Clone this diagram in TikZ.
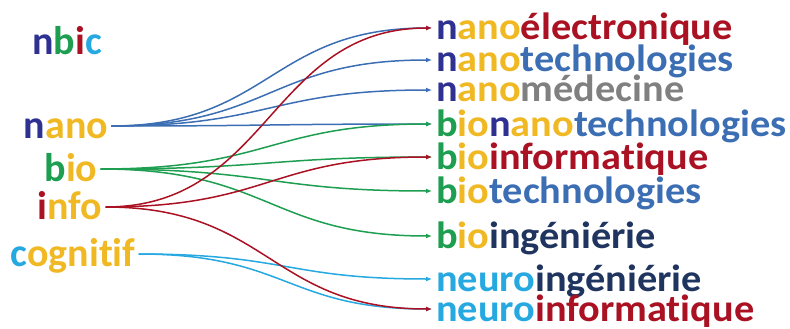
\documentclass[tikz,border=0pt]{standalone}
\usepackage{fontspec}
\setmainfont{Carlito}[Ligatures=NoCommon]
\usepackage{xcolor}
\usepackage{tikz}
\usetikzlibrary{arrows.meta,positioning,calc}
\definecolor{cnavy}{RGB}{46,49,146}
\definecolor{cgold}{RGB}{240,185,35}
\definecolor{cgreen}{RGB}{30,158,80}
\definecolor{cred}{RGB}{170,18,35}
\definecolor{ccyan}{RGB}{38,168,224}
\definecolor{csteel}{RGB}{60,110,180}
\definecolor{cgray}{RGB}{128,128,128}
\definecolor{cdeep}{RGB}{31,52,95}
\newcommand{\pnano}{\textcolor{cnavy}{n}\textcolor{cgold}{ano}}
\newcommand{\pbio}{\textcolor{cgreen}{b}\textcolor{cgold}{io}}
\newcommand{\pneuro}{\textcolor{ccyan}{neuro}}
\newcommand{\wide}[1]{\scalebox{1.06}[1]{#1}}
\tikzset{
  Lword/.style={inner xsep=3pt, inner ysep=0pt, text height=32pt, text depth=8pt,
                font=\fontsize{40}{40}\selectfont\bfseries},
  Rword/.style={anchor=west, inner xsep=4pt, inner ysep=0pt, text height=28pt,
                text depth=4pt, font=\fontsize{38}{38}\selectfont\bfseries},
  Larr/.style={-{Latex[length=6pt,width=5pt]}, line width=1.5pt},
  Bline/.style={Larr, draw=csteel},
  Gline/.style={Larr, draw=cgreen},
  Rline/.style={Larr, draw=cred},
  Cline/.style={Larr, draw=ccyan}
}
\begin{document}
\begin{tikzpicture}[x=1pt, y=-1pt]
  \useasboundingbox (0,0) rectangle (790,329);
  % sources
  \node[Lword] (nbic) at (67,43) {\textcolor{cnavy}{n}\textcolor{cgreen}{b}\textcolor{cred}{i}\textcolor{ccyan}{c}};
  \node[Lword] (nano) at (66,126) {\pnano};
  \node[Lword] (bio) at (71,169) {\pbio};
  \node[Lword] (info) at (70,207) {\textcolor{cred}{i}\textcolor{cgold}{nfo}};
  \node[Lword] (cogn) at (73,254) {\textcolor{ccyan}{c}\textcolor{cgold}{ognitif}};
  % targets
  \node[Rword] (nelec) at (432,28) {\wide{\pnano\textcolor{cred}{électronique}}};
  \node[Rword] (ntech) at (432,60) {\wide{\pnano\textcolor{csteel}{technologies}}};
  \node[Rword] (nmed) at (432,90) {\wide{\pnano\textcolor{cgray}{médecine}}};
  \node[Rword] (bnt) at (432,124) {\wide{\pbio\pnano\textcolor{csteel}{technologies}}};
  \node[Rword] (binf) at (432,157) {\wide{\pbio\textcolor{cred}{informatique}}};
  \node[Rword] (btech) at (432,191) {\wide{\pbio\textcolor{csteel}{technologies}}};
  \node[Rword] (bing) at (432,236) {\wide{\pbio\textcolor{cdeep}{ingéniérie}}};
  \node[Rword] (neuing) at (432,279) {\wide{\pneuro\textcolor{cdeep}{ingéniérie}}};
  \node[Rword] (neuinf) at (432,309) {\wide{\pneuro\textcolor{cred}{informatique}}};
  % where the curves bend
  \coordinate (kink) at (270,0);
  \coordinate (kinkc) at (287,0);
  % nano
  \draw[Bline] (nano.east) .. controls (nano.east -| kink) and (nelec.west -| kink) .. (nelec.west);
  \draw[Bline] (nano.east) .. controls (nano.east -| kink) and (ntech.west -| kink) .. (ntech.west);
  \draw[Bline] (nano.east) .. controls (nano.east -| kink) and (nmed.west -| kink) .. (nmed.west);
  \draw[Bline] (nano.east) .. controls (nano.east -| kink) and (bnt.west -| kink) .. (bnt.west);
  % bio
  \draw[Gline] (bio.east) .. controls (bio.east -| kink) and (bnt.west -| kink) .. (bnt.west);
  \draw[Gline] (bio.east) .. controls (bio.east -| kink) and (binf.west -| kink) .. (binf.west);
  \draw[Gline] (bio.east) .. controls (bio.east -| kink) and (btech.west -| kink) .. (btech.west);
  \draw[Gline] (bio.east) .. controls (bio.east -| kink) and (bing.west -| kink) .. (bing.west);
  % cognitif
  \draw[Cline] (cogn.east) .. controls (cogn.east -| kinkc) and (neuing.west -| kinkc) .. (neuing.west);
  \draw[Cline] (cogn.east) .. controls (cogn.east -| kinkc) and (neuinf.west -| kinkc) .. (neuinf.west);
  % info
  \draw[Rline] (info.east) .. controls (info.east -| kink) and (nelec.west -| kink) .. (nelec.west);
  \draw[Rline] (info.east) .. controls (info.east -| kink) and (binf.west -| kink) .. (binf.west);
  \draw[Rline] (info.east) .. controls (info.east -| kink) and (neuinf.west -| kink) .. (neuinf.west);
\end{tikzpicture}
\end{document}
